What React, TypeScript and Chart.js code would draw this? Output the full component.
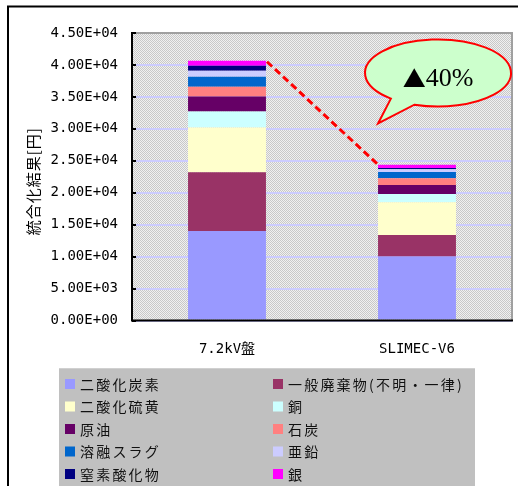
import React, { useEffect, useRef } from 'react';
import { Chart, registerables } from 'chart.js';

Chart.register(...registerables);

// ---- data ----
const categories = ['7.2kV盤', 'SLIMEC-V6'];
const seriesNames = [
  '二酸化炭素',
  '一般廃棄物(不明・一律)',
  '二酸化硫黄',
  '銅',
  '原油',
  '石炭',
  '溶融スラグ',
  '亜鉛',
  '窒素酸化物',
  '銀',
];
const seriesColors = [
  '#9999FF',
  '#993366',
  '#FFFFCC',
  '#CCFFFF',
  '#660066',
  '#FF8080',
  '#0066CC',
  '#CCCCFF',
  '#000080',
  '#FF00FF',
];
const carbonDioxide = [14000, 10000];
const generalWaste = [9200, 3400];
const sulfurDioxide = [7000, 5100];
const copper = [2500, 1300];
const crudeOil = [2350, 1400];
const coal = [1550, 1050];
const moltenSlag = [1550, 1000];
const zinc = [950, 420];
const nitrogenOxides = [780, 200];
const silver = [780, 520];
const seriesValues = [
  carbonDioxide,
  generalWaste,
  sulfurDioxide,
  copper,
  crudeOil,
  coal,
  moltenSlag,
  zinc,
  nitrogenOxides,
  silver,
];
const yMin = 0;
const yMax = 45000;
const yStep = 5000;
const yAxisTitle = '統合化結果[円]';
const calloutMark = '▲';
const calloutValue = '40%';

const monoFamily = "'DejaVu Sans Mono', 'Noto Sans CJK JP', monospace";
const cjkFamily = "'Noto Sans CJK JP', sans-serif";

function formatSci(v: number): string {
  if (v === 0) return '0.00E+00';
  const e = Math.floor(Math.log10(Math.abs(v)) + 1e-12);
  const m = v / Math.pow(10, e);
  return m.toFixed(2) + 'E' + (e < 0 ? '-' : '+') + String(Math.abs(e)).padStart(2, '0');
}

const App = () => {
  const ref = useRef<HTMLCanvasElement>(null);

  useEffect(() => {
    const canvas = ref.current!;
    const pat = document.createElement('canvas');
    pat.width = 2;
    pat.height = 2;
    const pc = pat.getContext('2d')!;
    pc.fillStyle = '#f0f0f0';
    pc.fillRect(0, 0, 2, 2);
    pc.fillStyle = '#c8c8c8';
    pc.fillRect(0, 0, 1, 1);
    pc.fillRect(1, 1, 1, 1);
    const pattern = canvas.getContext('2d')!.createPattern(pat, 'repeat');

    const backgroundPlugin = {
      id: 'bgFrame',
      beforeDraw(chart: any) {
        const { ctx, chartArea: a } = chart;
        ctx.save();
        ctx.fillStyle = '#ffffff';
        ctx.fillRect(0, 0, chart.width, chart.height);
        // outer frame
        ctx.strokeStyle = '#000000';
        ctx.lineWidth = 2;
        ctx.strokeRect(8, 6.5, 512, 520);
        // plot background
        ctx.fillStyle = pattern || '#dcdcdc';
        ctx.fillRect(a.left, a.top, a.right - a.left, a.bottom - a.top);
        ctx.restore();
      },
    };

    const overlayPlugin = {
      id: 'overlay',
      afterDatasetsDraw(chart: any) {
        const { ctx, chartArea: a } = chart;
        const yScale = chart.scales.y;
        ctx.save();
        // plot border: top/right gray
        ctx.strokeStyle = '#a0a0a0';
        ctx.lineWidth = 2;
        ctx.beginPath();
        ctx.moveTo(a.left, a.top);
        ctx.lineTo(a.right, a.top);
        ctx.lineTo(a.right, a.bottom);
        ctx.stroke();
        // axes black
        ctx.strokeStyle = '#000000';
        ctx.beginPath();
        ctx.moveTo(a.left, a.top - 1);
        ctx.lineTo(a.left, a.bottom);
        ctx.lineTo(a.right + 1, a.bottom);
        ctx.stroke();
        // inner tick marks on y axis
        yScale.ticks.forEach((t: any) => {
          const py = Math.round(yScale.getPixelForValue(t.value));
          ctx.beginPath();
          ctx.moveTo(a.left, py);
          ctx.lineTo(a.left + 4, py);
          ctx.stroke();
        });

        // dashed line between bar tops
        const meta = chart.getDatasetMeta(seriesValues.length - 1);
        const b0 = meta.data[0].getProps(['x', 'y', 'width'], true);
        const b1 = meta.data[1].getProps(['x', 'y', 'width'], true);
        const x0 = b0.x + b0.width / 2 + 1;
        const y0 = b0.y + 1;
        const x1 = b1.x - b1.width / 2;
        const y1 = b1.y;
        ctx.strokeStyle = '#ff0000';
        ctx.lineWidth = 3;
        ctx.setLineDash([7, 4]);
        ctx.beginPath();
        ctx.moveTo(x0, y0);
        ctx.lineTo(x1, y1);
        ctx.stroke();
        ctx.setLineDash([]);

        // callout
        const cx = a.right - 74;
        const cy = a.top + 40;
        const rx = 73;
        const ry = 33.5;
        const tA = Math.atan2(25.3 / ry, -46.6 / rx);
        const tB = Math.atan2(31.3 / ry, -23.3 / rx);
        const tipX = x1;
        const tipY = cy + 50.5;
        ctx.beginPath();
        ctx.ellipse(cx, cy, rx, ry, 0, tA, tB, false);
        ctx.lineTo(tipX, tipY);
        ctx.closePath();
        ctx.fillStyle = '#CCFFCC';
        ctx.fill();
        ctx.strokeStyle = '#ff0000';
        ctx.lineWidth = 2;
        ctx.stroke();

        ctx.fillStyle = '#000000';
        ctx.textBaseline = 'alphabetic';
        ctx.textAlign = 'left';
        const markFont = `23px ${cjkFamily}`;
        const valueFont = "26px 'Liberation Serif', 'DejaVu Serif', serif";
        ctx.font = markFont;
        const wMark = ctx.measureText(calloutMark).width;
        ctx.font = valueFont;
        const wVal = ctx.measureText(calloutValue).width;
        const startX = cx - (wMark + wVal) / 2;
        const baseY = cy + 12.5;
        ctx.font = markFont;
        ctx.fillText(calloutMark, startX, baseY + 1);
        ctx.font = valueFont;
        ctx.fillText(calloutValue, startX + wMark, baseY);
        ctx.restore();
      },
      afterDraw(chart: any) {
        const { ctx, chartArea: a } = chart;
        ctx.save();
        // y-axis title
        ctx.translate(33.5, (a.top + a.bottom) / 2 + 4.5);
        ctx.rotate(-Math.PI / 2);
        ctx.font = `15px ${cjkFamily}`;
        (ctx as any).letterSpacing = '1px';
        ctx.fillStyle = '#000000';
        ctx.textAlign = 'center';
        ctx.textBaseline = 'middle';
        ctx.fillText(yAxisTitle, 0, 0);
        ctx.restore();

        // legend
        ctx.save();
        const lx = 59;
        const ly = 369;
        ctx.fillStyle = '#C0C0C0';
        ctx.fillRect(lx, ly, 416, 130);
        ctx.strokeStyle = '#d0d0d0';
        ctx.lineWidth = 1;
        ctx.beginPath();
        ctx.moveTo(lx, ly - 0.5);
        ctx.lineTo(lx + 416, ly - 0.5);
        ctx.stroke();
        ctx.font = `14px ${cjkFamily}`;
        (ctx as any).letterSpacing = '2.2px';
        ctx.textAlign = 'left';
        ctx.textBaseline = 'middle';
        seriesNames.forEach((name, i) => {
          const col = i % 2;
          const row = Math.floor(i / 2);
          const sx = col === 0 ? 65 : 273;
          const sy = 383.5 + row * 22.5;
          ctx.fillStyle = seriesColors[i];
          ctx.fillRect(sx, sy - 4.5, 10, 10);
          ctx.fillStyle = '#111111';
          ctx.fillText(name, sx + 15, sy + 1);
        });
        ctx.restore();
      },
    };

    const chart = new Chart(canvas, {
      type: 'bar',
      data: {
        labels: categories,
        datasets: seriesNames.map((name, i) => ({
          label: name,
          data: seriesValues[i],
          backgroundColor: seriesColors[i],
          borderWidth: 0,
          barPercentage: 0.41,
          categoryPercentage: 1,
        })),
      },
      options: {
        responsive: false,
        animation: false,
        devicePixelRatio: 1,
        layout: { padding: { left: 0, top: 33, right: 6, bottom: 125.5 } },
        plugins: {
          legend: { display: false },
          tooltip: { enabled: false },
        },
        scales: {
          x: {
            stacked: true,
            grid: { display: false },
            border: { display: false },
            ticks: {
              color: '#000000',
              font: { family: monoFamily, size: 14 },
              padding: 12,
            },
            afterFit: (s: any) => {
              s.height = 40;
            },
          },
          y: {
            stacked: true,
            min: yMin,
            max: yMax,
            grid: { color: '#CCCCFF', lineWidth: 2, drawTicks: false },
            border: { display: false },
            ticks: {
              stepSize: yStep,
              color: '#000000',
              font: { family: monoFamily, size: 14 },
              padding: 14,
              callback: (v: any) => formatSci(Number(v)),
            },
            afterFit: (s: any) => {
              s.width = 132;
            },
          },
        },
      },
      plugins: [backgroundPlugin, overlayPlugin],
    } as any);

    return () => chart.destroy();
  }, []);

  return (
    <div style={{ position: 'absolute', left: 0, top: 0, width: 518, height: 486 }}>
      <canvas ref={ref} width={518} height={486} style={{ display: 'block' }} />
    </div>
  );
};

export default App;
